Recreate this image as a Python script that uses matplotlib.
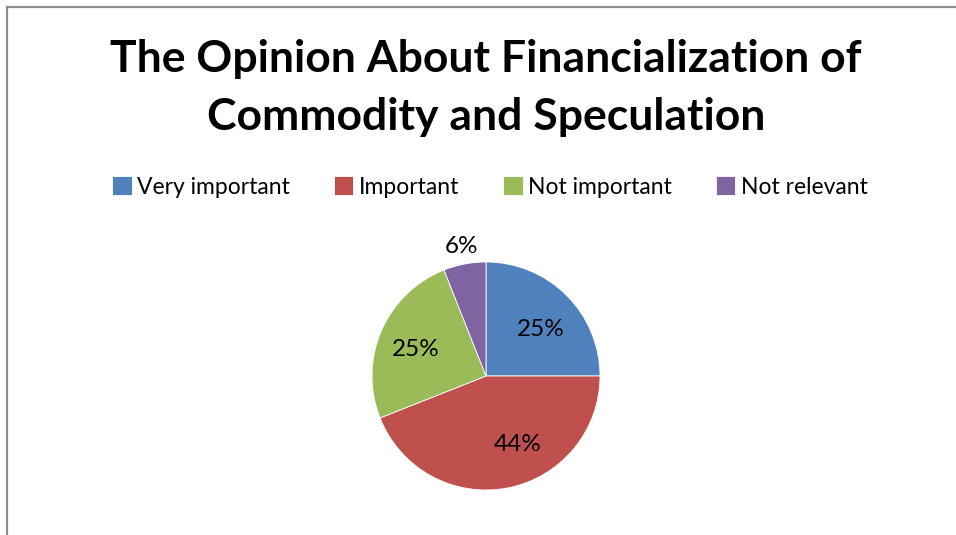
import matplotlib
matplotlib.use("Agg")
import matplotlib.pyplot as plt
from matplotlib.patches import Rectangle
import numpy as np

categories = ["Very important", "Important", "Not important", "Not relevant"]
values = [25, 44, 25, 6]
colors = ["#4F81BD", "#C0504D", "#9BBB59", "#8064A2"]
title = "The Opinion About Financialization of\nCommodity and Speculation"

plt.rcParams['font.family'] = ['Lato', 'DejaVu Sans']

W, H = 956, 535
fig = plt.figure(figsize=(W/100, H/100), dpi=100)

# border (cut off at right and bottom like the reference)
fig.patches.append(Rectangle((6.5/W, -0.1), 1.2, 1 - 7.5/H + 0.1, transform=fig.transFigure,
                             fill=False, edgecolor="#8C8C8C", linewidth=1.6))

fig.text(486/W, 1 - 88/H, title, ha="center", va="center", fontsize=32,
         fontweight="bold", linespacing=1.55)

cx, cy, r = 486, 376, 114
ax = fig.add_axes([(cx - r)/W, 1 - (cy + r)/H, 2*r/W, 2*r/H])
wedges, _ = ax.pie(values, colors=colors, startangle=90, counterclock=False,
                   radius=1.0, wedgeprops=dict(edgecolor="white", linewidth=0.6))
ax.set_xlim(-1, 1)
ax.set_ylim(-1, 1)
ax.set_aspect("equal")
ax.axis("off")

dists = [0.63, 0.66, 0.66, 1.16]
shifts = [-5, 14, 3, 0]
for w, v, d, s in zip(wedges, values, dists, shifts):
    ang = np.deg2rad((w.theta1 + w.theta2) / 2 + s)
    ax.text(d*np.cos(ang), d*np.sin(ang), f"{v}%", ha="center", va="center",
            fontsize=17.5, clip_on=False)

leg = fig.legend(wedges, categories, loc="center", bbox_to_anchor=(490/W, 1 - 187/H),
                 ncol=4, frameon=False, fontsize=16.5, handlelength=0.85, handleheight=0.85,
                 handletextpad=0.25, columnspacing=1.9)

fig.savefig("out.png", dpi=100)
